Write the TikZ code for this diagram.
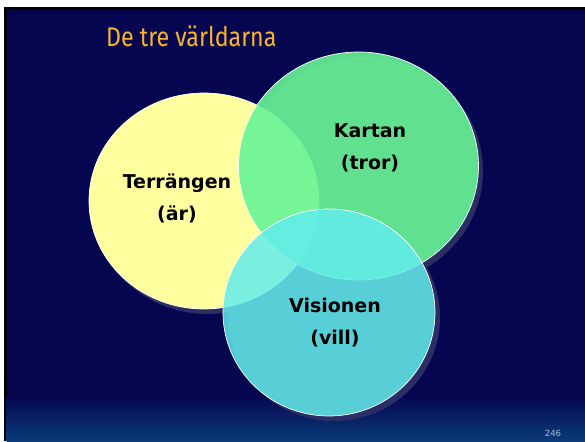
\documentclass[tikz,border=0pt]{standalone}
\usepackage{fontspec}
\setmainfont{DejaVu Sans}
\newfontfamily\titlefont[FakeStretch=0.86]{Fira Sans}
\usetikzlibrary{shapes.geometric}
\definecolor{slidenavy}{RGB}{6,6,80}
\definecolor{footblue}{RGB}{10,60,122}
\definecolor{titleorange}{RGB}{250,180,44}
\definecolor{terrfill}{RGB}{255,255,160}
\definecolor{kartfill}{RGB}{103,244,149}
\definecolor{visfill}{RGB}{97,237,237}
\definecolor{shadowblue}{RGB}{42,46,100}
\definecolor{pagegray}{RGB}{170,190,222}
\tikzset{
  world/.style={ellipse, inner sep=0pt, draw=white, line width=0.7pt},
  worldlabel/.style={align=center, text=black,
    font=\bfseries\fontsize{19}{32}\selectfont},
  dropshadow/.style={fill=shadowblue}
}
\begin{document}
\begin{tikzpicture}[x=1pt,y=-1pt]
\useasboundingbox (0,0) rectangle (585,441);
% slide frame and background
\fill[white] (0,0) rectangle (585,441);
\fill[black] (4,7) rectangle (585,441);
\fill[slidenavy] (6.5,10) rectangle (585,441);
\shade[top color=slidenavy, bottom color=footblue] (6.5,396) rectangle (585,441);

% title
\node[anchor=base west, inner sep=0pt, text=titleorange,
  font=\titlefont\fontsize{27}{30}\selectfont] (title) at (106,47) {De tre världarna};

% drop shadows under the three worlds
\fill[dropshadow] (208,206) ellipse [x radius=115, y radius=108];
\fill[dropshadow] (363,171) ellipse [x radius=120, y radius=114];
\fill[dropshadow] (334,317.5) ellipse [x radius=106, y radius=103.5];

% the three worlds
\node[world, fill=terrfill, minimum width=230, minimum height=216] (terr) at (204,201) {};
\node[world, fill=kartfill, fill opacity=0.9, minimum width=240, minimum height=228] (kart) at (358.5,166) {};
\node[world, fill=visfill, fill opacity=0.84, minimum width=212, minimum height=207] (vis) at (329,312.5) {};

% labels
\node[worldlabel] (terrlabel) at (177,198.5) {Terrängen\\(är)};
\node[worldlabel] (kartlabel) at (370,147.5) {Kartan\\(tror)};
\node[worldlabel] (vislabel) at (335,322.5) {Visionen\\(vill)};

% page number
\node[text=pagegray, font=\fontsize{8.5}{10}\selectfont, inner sep=0pt] (pageno) at (553,433) {246};
\end{tikzpicture}
\end{document}
